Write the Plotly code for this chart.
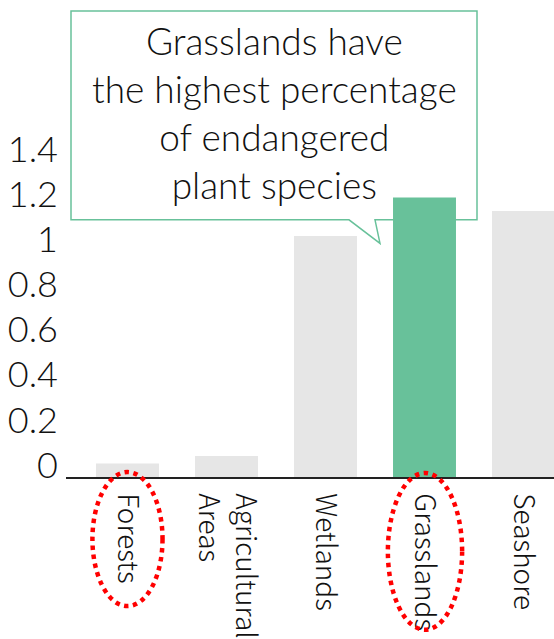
import plotly.graph_objects as go

categories = ["Forests", "Agricultural<br>Areas", "Wetlands", "Grasslands", "Seashore"]
values = [0.06, 0.093, 1.07, 1.24, 1.18]
bar_colors = ["#e6e6e6", "#e6e6e6", "#e6e6e6", "#68c19a", "#e6e6e6"]
tick_vals = [0, 0.2, 0.4, 0.6, 0.8, 1.0, 1.2, 1.4]
tick_text = ["0", "0.2", "0.4", "0.6", "0.8", "1", "1.2", "1.4"]
callout_lines = ["Grasslands have", "the highest percentage", "of endangered", "plant species"]

W, H = 554, 639
L, R, T, B = 66, 0, 139, 157
PW, PH = W - L - R, H - T - B
FONT = "Noto Sans CJK JP"
GREEN = "#68c19a"


def px(x):
    return (x - L) / PW


def py(y):
    return (H - B - y) / PH


fig = go.Figure(go.Bar(
    x=list(range(len(categories))), y=values, marker_color=bar_colors,
    marker_line_width=0, width=0.636,
))

path = "M {} {} L {} {} L {} {} L {} {} L {} {} L {} {} L {} {} Z".format(
    px(71), py(9), px(477), py(9), px(477), py(221), px(375), py(221),
    px(380), py(245), px(349), py(221), px(71), py(221))

shapes = [
    dict(type="path", xref="paper", yref="paper", path=path, fillcolor="white",
         line=dict(color=GREEN, width=1.5), layer="below"),
    dict(type="circle", xref="x", yref="paper", x0=-0.354, x1=0.354,
         y0=py(613), y1=py(477), line=dict(color="red", width=4.5, dash="dot")),
    dict(type="circle", xref="x", yref="paper", x0=2.63, x1=3.38,
         y0=py(637), y1=py(478), line=dict(color="red", width=4.5, dash="dot")),
]

annotations = [dict(
    text="<br>".join(callout_lines), xref="paper", yref="paper", x=px(274), y=py(112),
    xanchor="center", yanchor="middle", showarrow=False, align="center",
    font=dict(family="Lato", size=37, color="#111111", weight=300),
)]

fig.update_layout(
    width=W, height=H, margin=dict(l=L, r=R, t=T, b=B, pad=0),
    paper_bgcolor="white", plot_bgcolor="rgba(0,0,0,0)",
    showlegend=False, shapes=shapes, annotations=annotations,
    font=dict(family=FONT, color="#111111"),
    xaxis=dict(
        range=[-0.621, 4.308], tickmode="array", tickvals=list(range(len(categories))),
        ticktext=categories, tickangle=90, showgrid=False, zeroline=False,
        showline=True, linecolor="#222222", linewidth=1.5, ticks="",
        tickfont=dict(family=FONT, size=28, color="#111111", weight=300),
        ticklabelstandoff=9,
    ),
    yaxis=dict(
        range=[0, 1.5], tickmode="array", tickvals=tick_vals, ticktext=tick_text,
        showgrid=False, zeroline=False, showline=False, ticks="",
        tickfont=dict(family="Lato", size=36, color="#111111", weight=300),
        ticklabelshift=-12, ticklabelstandoff=7,
    ),
)

fig.write_html("out.html")
